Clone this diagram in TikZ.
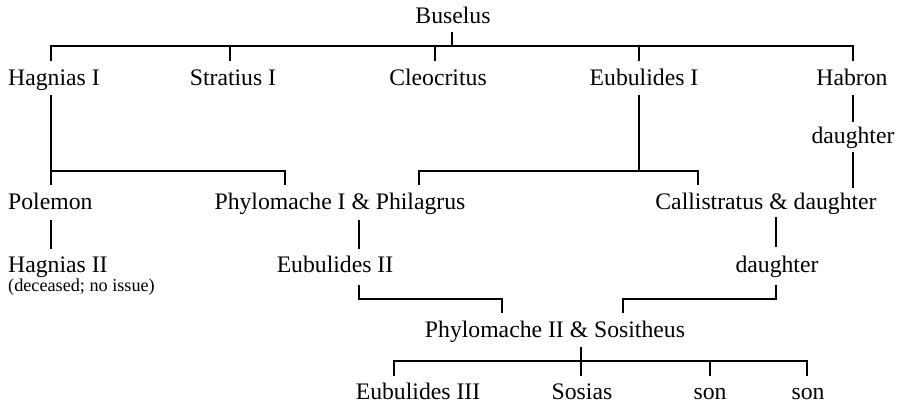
\documentclass[tikz,border=0pt]{standalone}
\usepackage{fontspec}
\setmainfont{Liberation Serif}
\begin{document}
\begin{tikzpicture}[x=1pt,y=-1pt,
  person/.style={anchor=base,inner sep=0pt,font=\fontsize{23.7}{26}\selectfont},
  personw/.style={person,anchor=base west},
  note/.style={anchor=base west,inner sep=0pt,font=\fontsize{18.2}{20}\selectfont},
  link/.style={line width=1.3pt,line cap=butt}]
\useasboundingbox (0,0) rectangle (898,408);
% nodes
\node[person] (bus) at (453,23) {Buselus};
\node[personw] (hag1) at (8,85) {Hagnias I};
\node[person] (str) at (233,85) {Stratius I};
\node[person] (cle) at (438,85) {Cleocritus};
\node[person] (eub1) at (644,85) {Eubulides I};
\node[person] (hab) at (852,85) {Habron};
\node[person] (dau1) at (853,143) {daughter};
\node[personw] (pol) at (8,209) {Polemon};
\node[person] (phy1) at (340,209) {Phylomache I \& Philagrus};
\node[person] (cal) at (766,209) {Callistratus \& daughter};
\node[personw] (hag2) at (8,272) {Hagnias II};
\node[note] (dec) at (8,291) {(deceased; no issue)};
\node[person] (eub2) at (335,272) {Eubulides II};
\node[person] (dau2) at (777,272) {daughter};
\node[person] (phy2) at (555,337) {Phylomache II \& Sositheus};
\node[person] (eub3) at (418,399) {Eubulides III};
\node[person] (sos) at (582,399) {Sosias};
\node[person] (son1) at (710,399) {son};
\node[person] (son2) at (808,399) {son};
% connector ends
\coordinate (bus-o) at (452,32);
\coordinate (g1) at (452,46);
\coordinate (hag1-i) at (51,61);
\coordinate (str-i) at (230,61);
\coordinate (cle-i) at (435,61);
\coordinate (eub1-i) at (639,61);
\coordinate (hab-i) at (853,61);
\coordinate (hag1-o) at (51,95);
\coordinate (g2) at (51,171);
\coordinate (pol-i) at (51,185);
\coordinate (phy1-ia) at (285,185);
\coordinate (eub1-o) at (639,95);
\coordinate (g3) at (639,171);
\coordinate (phy1-ib) at (419,185);
\coordinate (cal-ia) at (698,185);
\coordinate (hab-o) at (853,95);
\coordinate (dau1-i) at (853,122);
\coordinate (dau1-o) at (853,152);
\coordinate (cal-ib) at (853,188);
\coordinate (pol-o) at (51,220);
\coordinate (hag2-i) at (51,249);
\coordinate (phy1-o) at (359,220);
\coordinate (eub2-i) at (359,249);
\coordinate (cal-o) at (776,217);
\coordinate (dau2-i) at (776,247);
\coordinate (eub2-o) at (359,285);
\coordinate (phy2-ia) at (502,313);
\coordinate (dau2-o) at (776,285);
\coordinate (phy2-ib) at (623,313);
\coordinate (phy2-o) at (581,347);
\coordinate (g5) at (581,361);
\coordinate (eub3-i) at (394,376);
\coordinate (sos-i) at (581,376);
\coordinate (son1-i) at (710,376);
\coordinate (son2-i) at (807,376);
% connectors
\draw[link] (bus-o) -- (g1);
\draw[link] (hag1-i) |- (g1) -| (hab-i);
\draw[link] (str-i) -- (str-i |- g1);
\draw[link] (cle-i) -- (cle-i |- g1);
\draw[link] (eub1-i) -- (eub1-i |- g1);
\draw[link] (hag1-o) -- (pol-i);
\draw[link] (g2) -| (phy1-ia);
\draw[link] (eub1-o) -- (g3);
\draw[link] (phy1-ib) |- (g3) -| (cal-ia);
\draw[link] (hab-o) -- (dau1-i);
\draw[link] (dau1-o) -- (cal-ib);
\draw[link] (pol-o) -- (hag2-i);
\draw[link] (phy1-o) -- (eub2-i);
\draw[link] (cal-o) -- (dau2-i);
\draw[link] (eub2-o) |- (phy2-ia |- 0,299) -- (phy2-ia);
\draw[link] (dau2-o) |- (phy2-ib |- 0,299) -- (phy2-ib);
\draw[link] (phy2-o) -- (g5);
\draw[link] (eub3-i) |- (g5) -| (son2-i);
\draw[link] (sos-i) -- (g5);
\draw[link] (son1-i) -- (son1-i |- g5);
\end{tikzpicture}
\end{document}
